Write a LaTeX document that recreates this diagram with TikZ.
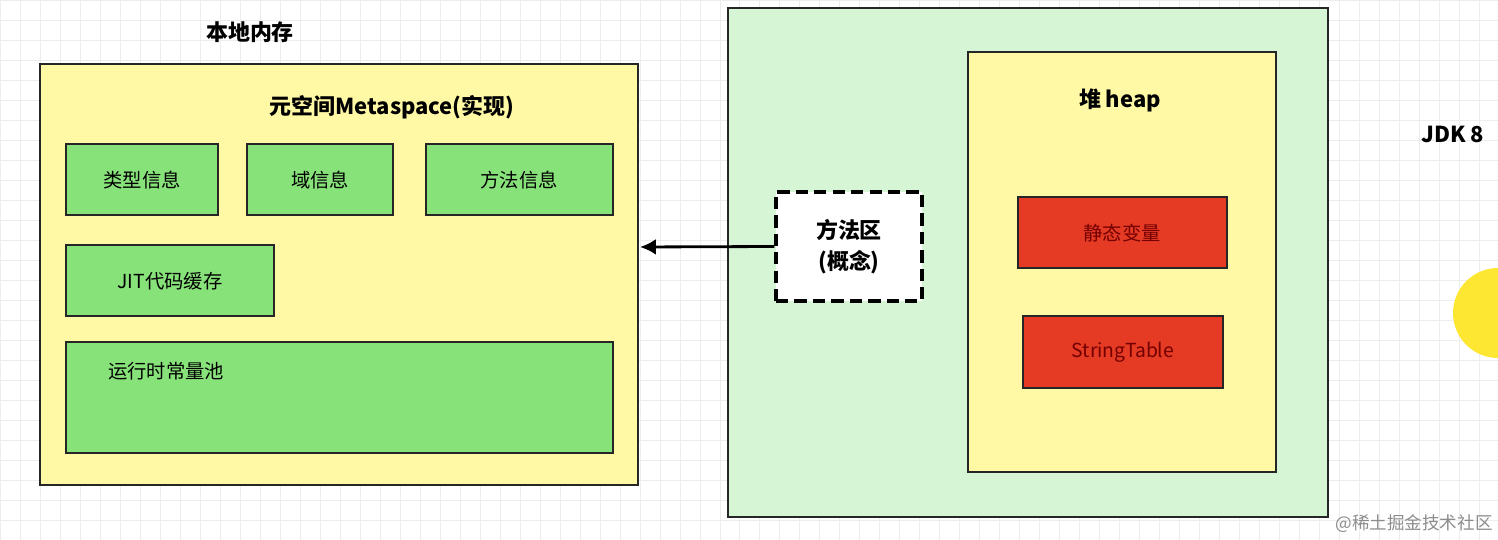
\documentclass[tikz,border=0pt]{standalone}
\usepackage{fontspec}
\usetikzlibrary{arrows.meta}
\setmainfont{Noto Sans CJK SC}
\begin{document}
\begin{tikzpicture}[x=0.02cm,y=-0.02cm,
  box/.style={draw=black!85,line width=1.2pt},
  g/.style={box,fill=gbox},
  r/.style={box,fill=rbox},
  lbl/.style={font=\fontsize{11}{13}\selectfont},
  bl/.style={font=\bfseries\fontsize{12.5}{14}\selectfont}]
\definecolor{gbox}{HTML}{88E27A}
\definecolor{rbox}{HTML}{E53B25}
\definecolor{ybox}{HTML}{FFF9A6}
\definecolor{gpan}{HTML}{D5F5D5}
\useasboundingbox (0,0) rectangle (1498,540);
\fill[white] (0,0) rectangle (1498,540);
\draw[black!7,step=0.4cm] (0,0) grid (1498,540);
\node[bl] (t1) at (250,32) {本地内存};
\draw[box,fill=ybox] (40,64) rectangle (638,485);
\coordinate (ye) at (640,247);
\node[bl] (t2) at (392,107) {元空间Metaspace(实现)};
\draw[g] (66,144) rectangle (218,215); \node[lbl] (a) at (142,180) {类型信息};
\draw[g] (247,144) rectangle (393,215); \node[lbl] (b) at (320,180) {域信息};
\draw[g] (426,144) rectangle (613,215); \node[lbl] (c) at (519,180) {方法信息};
\draw[g] (66,245) rectangle (274,316); \node[lbl] (d) at (170,281) {JIT代码缓存};
\draw[g] (66,342) rectangle (613,453); \node[lbl] (e) at (166,371) {运行时常量池};
\draw[box,fill=gpan] (728,8) rectangle (1328,517);
\draw[box,fill=ybox] (968,52) rectangle (1276,472);
\node[bl] (h) at (1120,100) {堆 heap};
\draw[r] (1018,197) rectangle (1227,268); \node[lbl,text=red!45!black] (s) at (1122,233) {静态变量};
\draw[r] (1023,316) rectangle (1223,388); \node[lbl,text=red!45!black] (st) at (1123,352) {StringTable};
\node[draw,dash pattern=on 7pt off 3.5pt,line width=1.8pt,fill=white,minimum width=146*0.02cm,minimum height=109*0.02cm,align=center,font=\bfseries\fontsize{12.5}{18}\selectfont] (m) at (849,246.5) {方法区\\(概念)};
\draw[line width=1.6pt,-{Latex[length=9pt,width=9pt]}] (m.west) -- (ye);
\node[bl,anchor=west] (j) at (1415,134) {JDK 8};
\fill[yellow!85!orange!80!white] (1498,313) circle (45);
\node[text=black!45,font=\fontsize{10}{12}\selectfont] (w) at (1414,524) {@稀土掘金技术社区};
\end{tikzpicture}
\end{document}
